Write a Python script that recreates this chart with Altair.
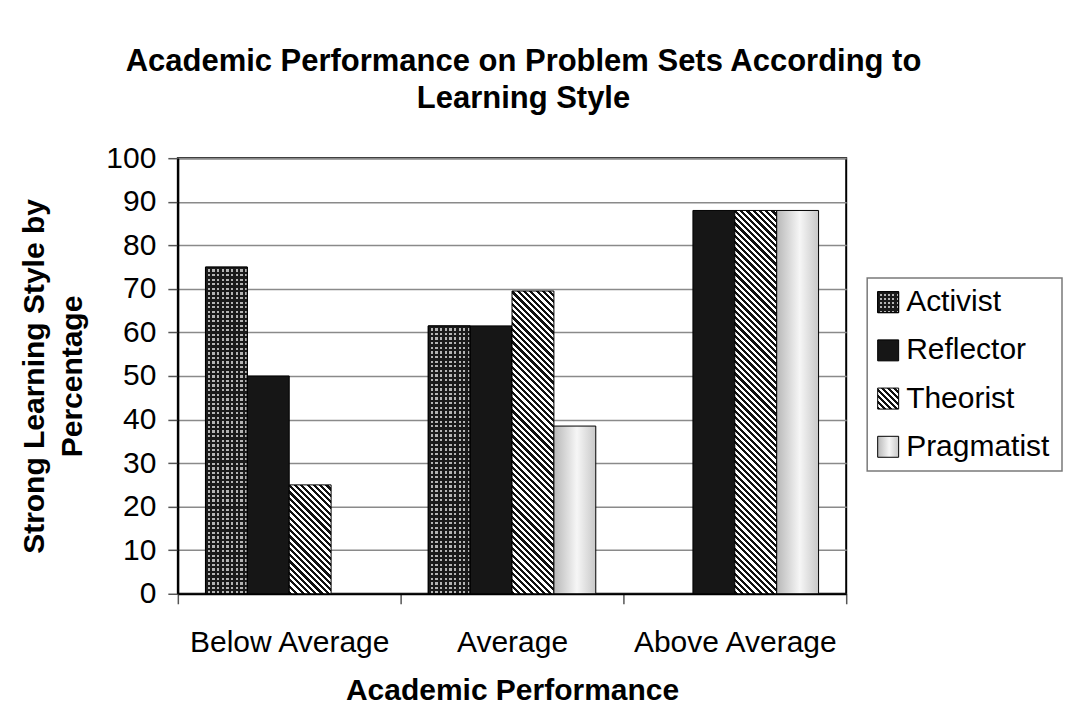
import math

import altair as alt

# ---- data -------------------------------------------------------------
categories = ["Below Average", "Average", "Above Average"]
series = ["Activist", "Reflector", "Theorist", "Pragmatist"]
activist = [75, 61.5, 0]
reflector = [50, 61.5, 88]
theorist = [25, 69.5, 88]
pragmatist = [0, 38.5, 88]
y_ticks = list(range(0, 101, 10))

values_by_series = {
    "Activist": activist,
    "Reflector": reflector,
    "Theorist": theorist,
    "Pragmatist": pragmatist,
}

FONT = "Liberation Sans"
PLOT_W, PLOT_H = 669, 436
OFFSET_PAD = 0.66
BAR_W = PLOT_W / len(categories) / (len(series) + 2 * OFFSET_PAD)
PX_PER_UNIT = PLOT_H / 100.0


# ---- fill patterns built from striped linear gradients -----------------
def stripes(n, c1, c2, frac, x1, y1, x2, y2):
    stops = []
    for i in range(n):
        a, b, c = i / n, (i + frac) / n, (i + 1) / n
        stops += [
            {"offset": round(a, 5), "color": c1},
            {"offset": round(b, 5), "color": c1},
            {"offset": round(b, 5), "color": c2},
            {"offset": round(c, 5), "color": c2},
        ]
    return {"gradient": "linear", "x1": x1, "y1": y1, "x2": x2, "y2": y2, "stops": stops}


def diagonal(w, h, period=4.4):
    # gradient vector in bounding-box space chosen so the stripes run at 45 degrees
    r = h / w
    s = (1 + r) / (1 + r * r)
    n = max(1, round((w + h) / (math.sqrt(2) * period)))
    return stripes(n, "#111111", "#ffffff", 0.5, 0, 1, s, 1 - r * s)


def grid_columns(w, period=4.6):
    n = max(1, round(w / period))
    return stripes(n, "#1a1a1a", "#b4b4b4", 0.5, 0, 0, 1, 0)


def grid_rows(h, period=4.6):
    n = max(1, round(h / period))
    return stripes(n, "#1a1a1a", "rgba(0,0,0,0)", 0.5, 0, 0, 0, 1)


def shaded():
    return {
        "gradient": "linear", "x1": 0, "y1": 0, "x2": 1, "y2": 0,
        "stops": [
            {"offset": 0, "color": "#b8b8b8"},
            {"offset": 0.55, "color": "#f6f6f6"},
            {"offset": 1, "color": "#c8c8c8"},
        ],
    }


def pattern(name, w, h):
    if name == "Activist":
        return grid_columns(w), grid_rows(h)
    if name == "Reflector":
        return "#161616", "rgba(0,0,0,0)"
    if name == "Theorist":
        return diagonal(w, h), "rgba(0,0,0,0)"
    return shaded(), "rgba(0,0,0,0)"


records = []
for name in series:
    for cat, v in zip(categories, values_by_series[name]):
        pat, over = pattern(name, BAR_W, max(v, 1) * PX_PER_UNIT)
        records.append({"category": cat, "series": name, "value": v, "pat": pat, "over": over})

legend_records = []
for name in series:
    pat, over = pattern(name, 21, 21)
    legend_records.append({"series": name, "pat": pat, "over": over})

# ---- main bar chart ---------------------------------------------------
base = alt.Chart(alt.Data(values=records)).transform_filter("datum.value > 0").encode(
    x=alt.X(
        "category:N",
        sort=categories,
        scale=alt.Scale(domain=categories, paddingInner=0, paddingOuter=0),
        axis=alt.Axis(
            title="Academic Performance",
            titleFontSize=30, titleFontWeight="bold", titlePadding=18,
            labelFontSize=30, labelPadding=24, labelAngle=0, labelLimit=0,
            labelColor="black", titleColor="black",
            tickBand="extent", tickSize=10, tickColor="#555555", tickWidth=1.5,
            domainColor="black", domainWidth=2,
        ),
    ),
    xOffset=alt.XOffset(
        "series:N",
        sort=series,
        scale=alt.Scale(domain=series, paddingInner=0, paddingOuter=OFFSET_PAD),
    ),
    y=alt.Y(
        "value:Q",
        scale=alt.Scale(domain=[0, 100], nice=False),
        axis=alt.Axis(
            title=["Strong Learning Style by", "Percentage"],
            titleFontSize=30, titleFontWeight="bold", titleLineHeight=38, titlePadding=18,
            labelFontSize=30, labelPadding=12, labelColor="black", titleColor="black",
            values=y_ticks, tickSize=10, tickColor="#555555", tickWidth=1.5,
            domainColor="black", domainWidth=2,
            grid=True, gridColor="#8a8a8a", gridWidth=1.5,
        ),
    ),
)

bars = base.mark_bar(stroke="black", strokeWidth=1).encode(fill=alt.Fill("pat:N", scale=None))
overlay = base.transform_filter("datum.series == 'Activist'").mark_bar(
    stroke="black", strokeWidth=1
).encode(fill=alt.Fill("over:N", scale=None))

main = alt.layer(bars, overlay).properties(
    width=PLOT_W, height=PLOT_H,
    view=alt.ViewBackground(stroke="black", strokeWidth=2),
)

# ---- legend -----------------------------------------------------------
leg_y = alt.Y(
    "series:N", sort=series, axis=None,
    scale=alt.Scale(domain=series, paddingInner=0, paddingOuter=0.1),
)
leg_base = alt.Chart(alt.Data(values=legend_records)).encode(y=leg_y)
leg_swatch = leg_base.mark_square(size=441, stroke="black", strokeWidth=1, opacity=1).encode(
    x=alt.value(21), fill=alt.Fill("pat:N", scale=None)
)
leg_over = leg_base.transform_filter("datum.series == 'Activist'").mark_square(
    size=441, stroke="black", strokeWidth=1, opacity=1
).encode(x=alt.value(21), fill=alt.Fill("over:N", scale=None))
leg_text = leg_base.mark_text(
    align="left", baseline="middle", fontSize=30, font=FONT, color="black"
).encode(x=alt.value(39), text="series:N")

legend = alt.layer(leg_swatch, leg_over, leg_text).properties(
    width=195, height=193,
    view=alt.ViewBackground(stroke="#7a7a7a", strokeWidth=1.5),
)

spacer = alt.Chart(alt.Data(values=[{"k": 0}])).mark_point(opacity=0).encode(
    x=alt.value(0), y=alt.value(0)
).properties(width=195, height=120, view=alt.ViewBackground(strokeOpacity=0))

legend_column = alt.vconcat(spacer, legend, spacing=0, bounds="flush")

chart = alt.hconcat(main, legend_column, spacing=21, bounds="flush").properties(
    title=alt.TitleParams(
        text=["Academic Performance on Problem Sets According to", "Learning Style"],
        fontSize=31, fontWeight="bold", font=FONT, color="black",
        lineHeight=37, anchor="middle", frame="group", dx=346, offset=27,
    ),
    padding={"left": 18, "top": 46, "right": 2, "bottom": 0},
).configure(font=FONT).configure_axis(labelFont=FONT, titleFont=FONT)

chart.save("out.html", embed_options={"renderer": "svg", "actions": False})
